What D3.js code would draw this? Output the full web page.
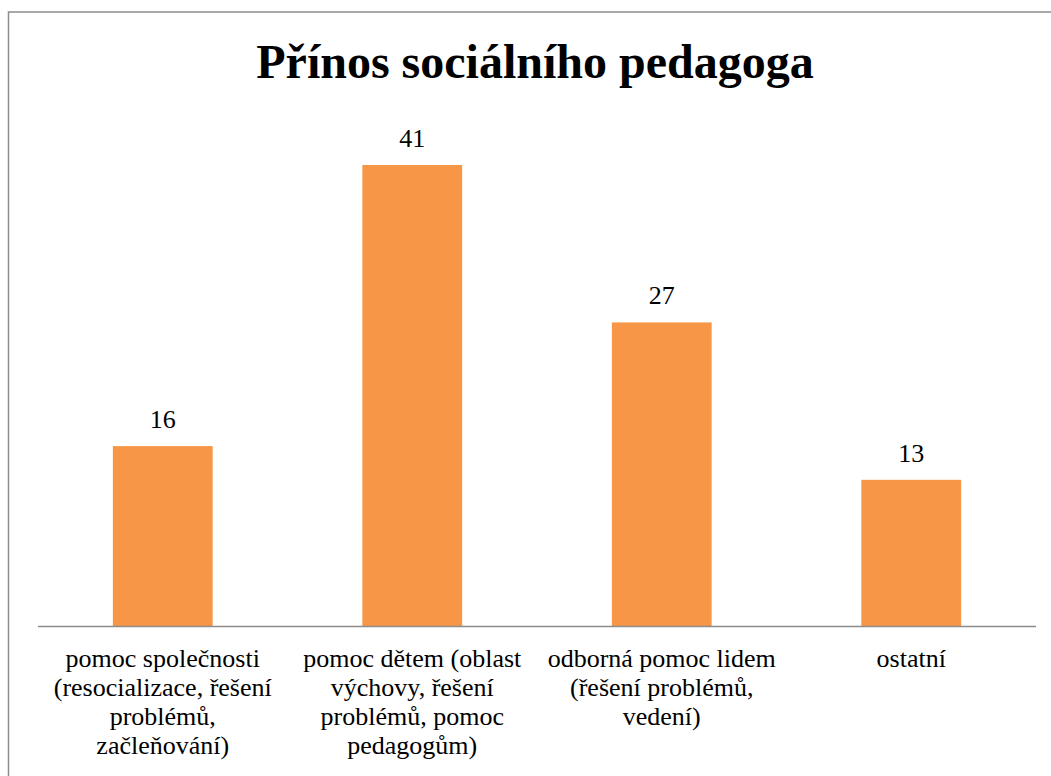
<!DOCTYPE html>
<html>
<head>
<meta charset="utf-8">
<script src="https://cdn.jsdelivr.net/npm/d3@7"></script>
<style>
  body { margin: 0; background: #fff; }
</style>
</head>
<body>
<div id="chart"></div>
<script>
var title = "Přínos sociálního pedagoga";
var categories = [
	["pomoc společnosti", "(resocializace, řešení", "problémů,", "začleňování)"],
	["pomoc dětem (oblast", "výchovy, řešení", "problémů, pomoc", "pedagogům)"],
	["odborná pomoc lidem", "(řešení problémů,", "vedení)"],
	["ostatní"]
];
var values = [16, 41, 27, 13];

var width = 1051, height = 776;
var plot = { left: 38, right: 1036, top: 165, bottom: 626 };

var svg = d3.select("#chart").append("svg")
	.attr("width", width)
	.attr("height", height);

// chart frame (runs off the right/bottom of the picture)
svg.append("rect")
	.attr("x", 8.5)
	.attr("y", 12)
	.attr("width", 1100)
	.attr("height", 900)
	.attr("fill", "#fff")
	.attr("stroke", "#8c8c8c")
	.attr("stroke-width", 1.5);

svg.append("text")
	.attr("x", 535)
	.attr("y", 78)
	.attr("text-anchor", "middle")
	.style("font-family", "'Liberation Serif'")
	.style("font-size", "48px")
	.style("font-weight", "bold")
	.text(title);

var x = d3.scaleBand()
	.domain(d3.range(values.length))
	.range([plot.left, plot.right])
	.paddingInner(0.6)
	.paddingOuter(0.3);

// top of the tallest bar sits at plot.top
var y = d3.scaleLinear()
	.domain([0, 41])
	.range([plot.bottom, plot.top]);

svg.selectAll("rect.bar")
	.data(values)
	.enter().append("rect")
	.attr("class", "bar")
	.attr("x", function(d, i) { return x(i); })
	.attr("y", function(d) { return y(d); })
	.attr("width", x.bandwidth())
	.attr("height", function(d) { return y(0) - y(d); })
	.attr("fill", "#f79646");

svg.selectAll("text.val")
	.data(values)
	.enter().append("text")
	.attr("class", "val")
	.attr("x", function(d, i) { return x(i) + x.bandwidth() / 2; })
	.attr("y", function(d) { return y(d) - 18; })
	.attr("text-anchor", "middle")
	.style("font-family", "'Liberation Serif'")
	.style("font-size", "26px")
	.text(function(d) { return d; });

// category axis
svg.append("line")
	.attr("x1", plot.left)
	.attr("x2", plot.right)
	.attr("y1", plot.bottom + 0.5)
	.attr("y2", plot.bottom + 0.5)
	.attr("stroke", "#8c8c8c")
	.attr("stroke-width", 1.5);

var labels = svg.selectAll("text.cat")
	.data(categories)
	.enter().append("text")
	.attr("class", "cat")
	.attr("x", function(d, i) { return x(i) + x.bandwidth() / 2; })
	.attr("y", 667)
	.attr("text-anchor", "middle")
	.style("font-family", "'Liberation Serif'")
	.style("font-size", "26px");

labels.selectAll("tspan")
	.data(function(d) { return d; })
	.enter().append("tspan")
	.attr("x", function() { return d3.select(this.parentNode).attr("x"); })
	.attr("dy", function(d, i) { return i ? 29 : 0; })
	.text(function(d) { return d; });
</script>
</body>
</html>
